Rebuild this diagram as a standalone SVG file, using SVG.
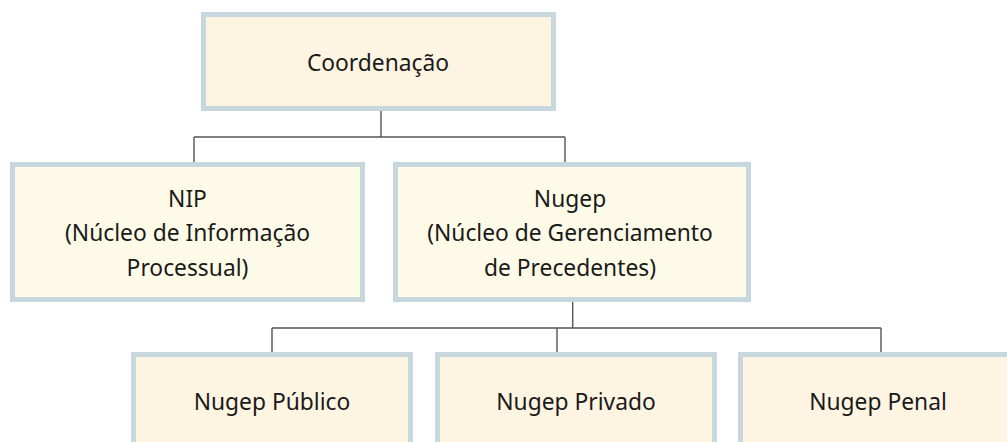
<svg xmlns="http://www.w3.org/2000/svg" width="1007" height="442" viewBox="0 0 1007 442">
<style>
.box{stroke:#c6d8dd;stroke-width:5}
.a{fill:#fef4e2}
.b{fill:#fefae8}
.t{font-family:"Noto Sans","Open Sans",sans-serif;font-size:22.8px;fill:#1a1a1a;text-anchor:middle}
.c{stroke:#555;stroke-width:1.4;fill:none}
</style>
<rect x="0" y="0" width="1007" height="442" fill="#fff"/>
<g id="connectors">
<path class="c" d="M381 111V137M194 137H565M194 137V162M565 137V162"/>
<path class="c" d="M572.7 302V328M272 328H881M272 328V352M557 328V352M881 328V352"/>
</g>
<g id="coordenacao">
<rect class="box a" x="203.5" y="14.5" width="350" height="94"/>
<text class="t" x="378" y="71">Coordenação</text>
</g>
<g id="nip">
<rect class="box b" x="12.5" y="164.5" width="350" height="135"/>
<text class="t" x="187.5" y="207">NIP</text>
<text class="t" x="187.5" y="241">(Núcleo de Informação</text>
<text class="t" x="187.5" y="276">Processual)</text>
</g>
<g id="nugep">
<rect class="box b" x="395.5" y="164.5" width="353" height="135"/>
<text class="t" x="570" y="207">Nugep</text>
<text class="t" x="570" y="241">(Núcleo de Gerenciamento</text>
<text class="t" x="570" y="276">de Precedentes)</text>
</g>
<g id="nugep-publico">
<rect class="box a" x="133.5" y="354.5" width="277" height="120"/>
<text class="t" x="272" y="410">Nugep Público</text>
</g>
<g id="nugep-privado">
<rect class="box a" x="437.5" y="354.5" width="277" height="120"/>
<text class="t" x="576" y="410">Nugep Privado</text>
</g>
<g id="nugep-penal">
<rect class="box a" x="740.5" y="354.5" width="277" height="120"/>
<text class="t" x="878" y="410">Nugep Penal</text>
</g>
</svg>
